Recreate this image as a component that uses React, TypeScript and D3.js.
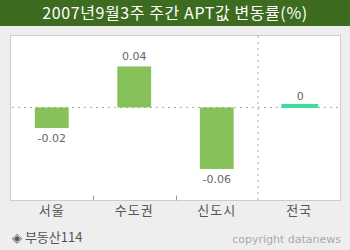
import React from "react";
import * as d3 from "d3";

const categories = ["서울", "수도권", "신도시", "전국"];
const values = [-0.02, 0.04, -0.06, 0];
const valueLabels = ["-0.02", "0.04", "-0.06", "0"];
const title = "2007년9월3주 주간 APT값 변동률(%)";

export default function App() {
  const W = 350, H = 250;
  const left = 10.5, right = 340.5, top = 35.5, bottom = 200.5;
  const x = d3.scaleBand<string>().domain(categories).range([left, right]).paddingInner(0.59).paddingOuter(0.295);
  const y = d3.scaleLinear().domain([-0.0908, 0.0702]).range([bottom, top]);
  const y0 = y(0);
  const band = (right - left) / categories.length;
  const font = "'DejaVu Sans', 'Noto Sans CJK KR', sans-serif";
  return (
    <svg width={W} height={H} style={{ position: "absolute", left: 0, top: 0 }}>
      <rect x={0} y={0} width={W} height={H} fill="#eeeeee" />
      <rect x={0} y={0} width={W} height={26} fill="#3d6b1f" />
      <text x={175} y={19} textAnchor="middle" fill="#ffffff" fontSize={16} letterSpacing={0.6} fontFamily="'Noto Sans CJK KR', sans-serif">{title}</text>
      <rect x={left} y={top} width={right - left} height={bottom - top} fill="#ffffff" stroke="#cccccc" strokeWidth={1} />
      <line x1={left + 2} x2={right - 2} y1={y0} y2={y0} stroke="#4a5a2a" strokeWidth={1} strokeDasharray="1,5" />
      <line x1={left + band * 3} x2={left + band * 3} y1={top + 1} y2={bottom} stroke="#4a5a2a" strokeWidth={1} strokeDasharray="1,5" />
      {[1, 2].map((i) => (
        <line key={i} x1={Math.round(left + band * i) + 0.5} x2={Math.round(left + band * i) + 0.5} y1={bottom - 5} y2={bottom} stroke="#999" />
      ))}
      {categories.map((c, i) => {
        const v = values[i];
        const bx = x(c)!;
        const bw = x.bandwidth();
        if (v === 0) {
          return (
            <g key={c}>
              <rect x={bx - 1} y={y0 - 3.5} width={bw + 3} height={4} fill="#3ddc9a" />
              <text x={bx + bw / 2 + 1} y={y0 - 7} textAnchor="middle" fontSize={11} fill="#666" fontFamily={font}>{valueLabels[i]}</text>
            </g>
          );
        }
        const yt = Math.min(y(v), y0);
        const h = Math.abs(y(v) - y0);
        const ly = v > 0 ? y(v) - 6 : y(v) + 14;
        return (
          <g key={c}>
            <rect x={bx} y={yt} width={bw} height={h} fill="#86c15a" />
            <text x={bx + bw / 2} y={ly} textAnchor="middle" fontSize={11} fill="#666" fontFamily={font}>{valueLabels[i]}</text>
          </g>
        );
      })}
      {categories.map((c, i) => (
        <text key={c} x={left + band * (i + 0.5)} y={215} textAnchor="middle" fontSize={13} letterSpacing={1} fill="#555" fontFamily="'Noto Sans CJK KR', sans-serif">{c}</text>
      ))}
      <text x={12} y={242} fontSize={13} fill="#555" fontFamily="'Noto Sans CJK KR', sans-serif">◈ 부동산114</text>
      <text x={341} y={243} textAnchor="end" fontSize={11} fill="#aaaaaa" fontFamily={font}>copyright datanews</text>
    </svg>
  );
}
